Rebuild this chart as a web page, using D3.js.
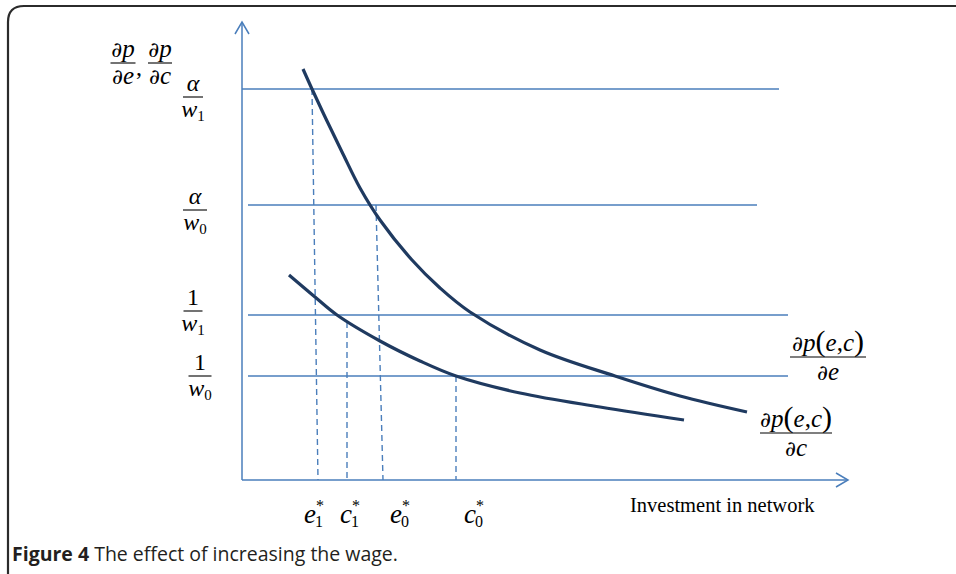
<!DOCTYPE html>
<html>
<head>
<meta charset="utf-8">
<script src="https://cdn.jsdelivr.net/npm/d3@7"></script>
<style>
  body { margin: 0; background: #fff; }
  svg text { font-family: "Liberation Serif", "Times New Roman", serif; fill: #000; }
  .pd { font-family: "DejaVu Serif", serif; }
</style>
</head>
<body>
<svg id="chart" width="956" height="574"></svg>
<script>
// chart units: distance from the origin along each axis
const xMax = 606, yMax = 458;

// horizontal reference levels
const levelNames = ["a/w1", "a/w0", "1/w1", "1/w0"];
const levelValues = [391, 275, 165, 104];
const levelStart = [0, 6, 6, 6];
const levelEnd = [537, 515, 546, 546];

// marginal curves
const curveE = [[61, 411], [70, 391], [85, 359], [101, 326], [118, 292], [138, 260], [170, 220], [198, 192], [228, 168], [298, 130], [373, 104], [438, 84], [505, 68]];
const curveC = [[47, 205], [73, 183], [95, 165], [138, 139], [178, 119], [214, 104], [278, 87], [358, 73], [442, 60]];

// dashed drops to the axis: top point, x at the axis
const dropNames = ["e1", "c1", "e0", "c0"];
const dropTop = [[70, 391], [105, 158], [134, 275], [214, 104]];
const dropBottom = [76, 105, 141, 214];

const svg = d3.select("#chart");
const blue = "#4a7ebb", navy = "#1f3a60";

const x = d3.scaleLinear().domain([0, xMax]).range([242, 848]);
const y = d3.scaleLinear().domain([0, yMax]).range([480, 22]);

// frame
svg.append("path")
  .attr("d", "M 8 574 L 8 22 Q 8 6 24 6 L 956 6")
  .attr("fill", "none").attr("stroke", "#2b2b2b").attr("stroke-width", 2.2);

// axes
svg.append("line").attr("x1", x(0)).attr("y1", y(0)).attr("x2", x(0)).attr("y2", y(yMax))
  .attr("stroke", blue).attr("stroke-width", 1.5);
svg.append("line").attr("x1", x(0)).attr("y1", y(0)).attr("x2", x(xMax)).attr("y2", y(0))
  .attr("stroke", blue).attr("stroke-width", 1.5);
svg.append("path")
  .attr("d", `M ${x(0) - 7} ${y(yMax) + 12} L ${x(0)} ${y(yMax)} L ${x(0) + 7} ${y(yMax) + 12}`)
  .attr("fill", "none").attr("stroke", blue).attr("stroke-width", 1.5);
svg.append("path")
  .attr("d", `M ${x(xMax) - 12} ${y(0) - 7} L ${x(xMax)} ${y(0)} L ${x(xMax) - 12} ${y(0) + 7}`)
  .attr("fill", "none").attr("stroke", blue).attr("stroke-width", 1.5);

// level lines
svg.selectAll(".level")
  .data(levelValues)
  .enter()
  .append("line")
  .attr("class", "level")
  .attr("x1", (d, i) => x(levelStart[i]))
  .attr("x2", (d, i) => x(levelEnd[i]))
  .attr("y1", d => y(d))
  .attr("y2", d => y(d))
  .attr("stroke", blue).attr("stroke-width", 1.4);

// dashed drops
svg.selectAll(".drop")
  .data(dropTop)
  .enter()
  .append("line")
  .attr("class", "drop")
  .attr("x1", d => x(d[0]))
  .attr("y1", d => y(d[1]))
  .attr("x2", (d, i) => x(dropBottom[i]))
  .attr("y2", y(0))
  .attr("stroke", blue).attr("stroke-width", 1.4)
  .attr("stroke-dasharray", "6,4");

// curves
const line = d3.line().x(d => x(d[0])).y(d => y(d[1])).curve(d3.curveCatmullRom.alpha(0.5));
[curveE, curveC].forEach(c => {
  svg.append("path").attr("d", line(c))
    .attr("fill", "none").attr("stroke", navy).attr("stroke-width", 3.2);
});

// math text helpers
// parts: [text, italic, dy, size]
function addText(g, cx, base, parts, size) {
  const t = g.append("text").attr("x", cx).attr("y", base)
    .attr("text-anchor", "middle").attr("font-size", size);
  parts.forEach(p => {
    const s = t.append("tspan").text(p[0]);
    if (p[0] === "∂") s.attr("class", "pd").attr("font-size", size * 0.85);
    if (p[1]) s.attr("font-style", "italic");
    if (p[2]) s.attr("dy", p[2]);
    if (p[3]) s.attr("font-size", p[3]);
  });
  return t;
}
function frac(cx, bar, w, num, den, size, gap) {
  const g = svg.append("g");
  addText(g, cx, bar - 6, num, size);
  g.append("line").attr("x1", cx - w / 2).attr("x2", cx + w / 2)
    .attr("y1", bar).attr("y2", bar).attr("stroke", "#000").attr("stroke-width", 1.1);
  addText(g, cx, bar + (gap || 22), den, size);
}

// y axis title
frac(123, 63, 25, [["∂"], ["p", true]], [["∂"], ["e", true]], 25, 21);
svg.append("text").attr("x", 136).attr("y", 75).attr("font-size", 24).text(",");
frac(160, 63, 24, [["∂"], ["p", true]], [["∂"], ["c", true]], 25, 21);

// level labels
const levelLabelX = [193, 195, 193, 200];
const levelLabelBar = [97, 210, 311, 376];
const levelLabelW = [20, 24, 19, 23];
levelNames.forEach((n, i) => {
  const [top, sub] = n.split("/");
  const num = top === "a" ? [["α", true]] : [["1"]];
  frac(levelLabelX[i], levelLabelBar[i], levelLabelW[i], num,
    [["w", true], [sub.slice(1), false, 4, 15]], 24, 20);
});

// curve labels
const numParts = [["∂"], ["p", true], ["(", false, null, 30], ["e", true], [","], ["c", true], [")", false, null, 30]];
frac(828, 357, 76, numParts, [["∂"], ["e", true]], 25, 23);
frac(796, 433, 72, numParts, [["∂"], ["c", true]], 25, 23);

// drop labels on the x axis
const dropLabelX = [316, 352, 402, 476];
dropNames.forEach((n, i) => {
  svg.append("text").attr("x", dropLabelX[i]).attr("y", 523)
    .attr("text-anchor", "end").attr("font-size", 27).attr("font-style", "italic").text(n[0]);
  svg.append("text").attr("x", dropLabelX[i]).attr("y", 511)
    .attr("font-size", 16).text("*");
  svg.append("text").attr("x", dropLabelX[i] - 1).attr("y", 527)
    .attr("font-size", 16).text(n[1]);
});

svg.append("text").attr("x", 630).attr("y", 512).attr("font-size", 20.5)
  .text("Investment in network");

// caption
const cap = svg.append("text").attr("x", 12).attr("y", 561)
  .style("font-family", "'Open Sans', 'Noto Sans', sans-serif").attr("font-size", 19.5)
  .style("fill", "#231f20");
cap.append("tspan").attr("font-weight", "bold").text("Figure 4");
cap.append("tspan").text(" The effect of increasing the wage.");
</script>
</body>
</html>
